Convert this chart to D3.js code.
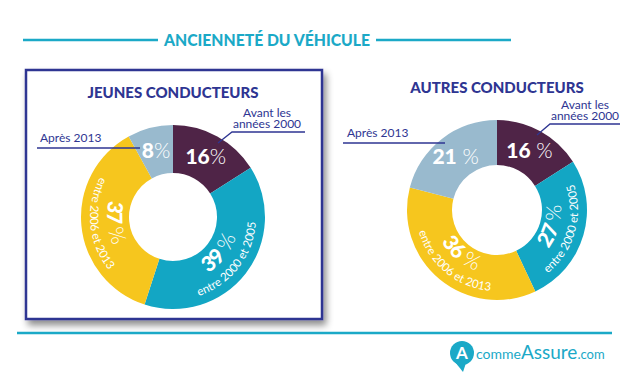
<!DOCTYPE html>
<html>
<head>
<meta charset="utf-8">
<script src="https://cdn.jsdelivr.net/npm/d3@7"></script>
<style>
    body { margin: 0; background: #ffffff; }
    svg { display: block; font-family: "Lato", "Noto Sans", sans-serif; }
</style>
</head>
<body>
<div id="chart"></div>
<script>
// Данные диаграмм
var categories = ["Avant les années 2000", "entre 2000 et 2005", "entre 2006 et 2013", "Après 2013"];
var jeunesValues = [16, 39, 37, 8];
var autresValues = [16, 27, 36, 21];
var jeunesSep = ["", " ", " ", ""];
var autresSep = [" ", " ", " ", " "];
var chartTitles = ["JEUNES CONDUCTEURS", "AUTRES CONDUCTEURS"];
var mainTitle = "ANCIENNETÉ DU VÉHICULE";
var colors = ["#4f2447", "#13a6c4", "#f6c61e", "#99bace"];

var app = app || {};

app.Donut = (function () {
    var navy = "#2e3592";

    function Donut(svg, options) {
        this.svg = svg;
        this.id = options.id;
        this.cx = options.cx;
        this.cy = options.cy;
        this.outer = options.outer;
        this.inner = options.inner;
        this.values = options.values;
        this.seps = options.seps;
        this.title = options.title;
        this.titleY = options.titleY;
        this.callouts = options.callouts;
        this.draw();
    }

    var p = Donut.prototype;

    // дуга против часовой стрелки вокруг угла a, чтобы текст шел снизу вверх
    function textArc(a, r) {
        var a1 = a + Math.PI / 2,
            a2 = a - Math.PI / 2;
        return "M" + (r * Math.sin(a1)) + "," + (-r * Math.cos(a1)) +
            " A" + r + "," + r + " 0 0 0 " + (r * Math.sin(a2)) + "," + (-r * Math.cos(a2));
    }

    p.draw = function () {
        var self = this,
            pie = d3.pie().sort(null).value(function (d) { return d; }),
            arc = d3.arc().innerRadius(this.inner).outerRadius(this.outer),
            mid = (this.inner + this.outer) / 2,
            g = this.svg.append("g").attr("transform", "translate(" + this.cx + "," + this.cy + ")"),
            defs = this.svg.select("defs"),
            arcs = pie(this.values);

        this.svg.append("text")
            .attr("x", this.cx)
            .attr("y", this.titleY)
            .attr("text-anchor", "middle")
            .attr("fill", navy)
            .attr("font-weight", 900)
            .attr("font-size", 15)
            .text(this.title);

        g.selectAll("path.slice")
            .data(arcs)
            .enter()
            .append("path")
            .attr("class", "slice")
            .attr("d", arc)
            .attr("fill", function (d, i) { return colors[i]; });

        arcs.forEach(function (d, i) {
            var a = (d.startAngle + d.endAngle) / 2,
                x = Math.sin(a) * mid,
                y = -Math.cos(a) * mid,
                numId = self.id + "-num-" + i,
                catId = self.id + "-cat-" + i,
                t,
                tp;

            if (i === 0 || i === 3) {
                // горизонтальная подпись только с числом
                t = g.append("text")
                    .attr("x", x)
                    .attr("y", y + 7)
                    .attr("text-anchor", "middle")
                    .attr("fill", "#ffffff")
                    .attr("font-size", 21);
                t.append("tspan").attr("font-weight", 900).text(self.values[i]);
                t.append("tspan").attr("font-weight", 300).text(self.seps[i] + "%");
                return;
            }

            // подписи по дуге
            defs.append("path").attr("id", numId).attr("d", textArc(a, self.outer - 26));
            defs.append("path").attr("id", catId).attr("d", textArc(a, self.outer - 9));

            t = g.append("text")
                .attr("fill", "#ffffff")
                .attr("font-size", 21);
            tp = t.append("textPath")
                .attr("href", "#" + numId)
                .attr("startOffset", "50%")
                .attr("text-anchor", "middle");
            tp.append("tspan").attr("font-weight", 900).text(self.values[i]);
            tp.append("tspan").attr("font-weight", 300).text(self.seps[i] + "%");

            g.append("text")
                .attr("fill", "#ffffff")
                .attr("font-size", 11.5)
                .attr("font-weight", 400)
                .append("textPath")
                .attr("href", "#" + catId)
                .attr("startOffset", "50%")
                .attr("text-anchor", "middle")
                .text(categories[i]);
        });

        this.drawCallouts(g);
    };

    p.drawCallouts = function (g) {
        var c = this.callouts,
            words = categories[0].split(" "),
            avant = g.append("text")
                .attr("text-anchor", "middle")
                .attr("fill", navy)
                .attr("font-size", 12)
                .attr("font-weight", 400);

        avant.append("tspan").attr("x", c.avantX).attr("y", c.avantY).text(words.slice(0, 2).join(" "));
        avant.append("tspan").attr("x", c.avantX).attr("y", c.avantY + 11).text(words.slice(2).join(" "));

        g.append("path")
            .attr("d", d3.line()([[c.avantLine[1], c.avantLine[2]], [c.avantLine[0], c.avantLine[2]], c.avantEnd]))
            .attr("fill", "none")
            .attr("stroke", navy)
            .attr("stroke-width", 1.3);

        g.append("text")
            .attr("x", c.apresX)
            .attr("y", c.apresY)
            .attr("fill", navy)
            .attr("font-size", 12)
            .attr("font-weight", 400)
            .text(categories[3]);

        g.append("line")
            .attr("x1", c.apresLine[0])
            .attr("x2", c.apresLine[1])
            .attr("y1", c.apresLine[2])
            .attr("y2", c.apresLine[2])
            .attr("stroke", navy)
            .attr("stroke-width", 1.3);
    };

    return Donut;
}());

(function () {
    var width = 640,
        height = 384,
        teal = "#1ba9c7",
        svg = d3.select("#chart").append("svg").attr("width", width).attr("height", height),
        defs = svg.append("defs"),
        shadow = defs.append("filter").attr("id", "shadow").attr("x", "-10%").attr("y", "-10%")
            .attr("width", "125%").attr("height", "125%"),
        logo,
        lt;

    shadow.append("feDropShadow")
        .attr("dx", 3).attr("dy", 5).attr("stdDeviation", 3.5)
        .attr("flood-color", "#000000").attr("flood-opacity", 0.45);

    // заголовок с линиями
    svg.append("line").attr("x1", 23).attr("x2", 158).attr("y1", 40).attr("y2", 40)
        .attr("stroke", teal).attr("stroke-width", 2.5);
    svg.append("line").attr("x1", 376).attr("x2", 511).attr("y1", 40).attr("y2", 40)
        .attr("stroke", teal).attr("stroke-width", 2.5);
    svg.append("text")
        .attr("x", 267).attr("y", 46)
        .attr("text-anchor", "middle")
        .attr("fill", teal)
        .attr("font-weight", 900)
        .attr("font-size", 17)
        .attr("textLength", 206)
        .attr("lengthAdjust", "spacingAndGlyphs")
        .text(mainTitle);

    // рамка вокруг левой диаграммы
    svg.append("rect")
        .attr("x", 26).attr("y", 70).attr("width", 296).attr("height", 249)
        .attr("fill", "#ffffff")
        .attr("stroke", "#2e3592")
        .attr("stroke-width", 2.5)
        .attr("filter", "url(#shadow)");

    new app.Donut(svg, {
        id: "jeunes",
        cx: 173, cy: 217, outer: 92, inner: 44,
        values: jeunesValues, seps: jeunesSep,
        title: chartTitles[0], titleY: 98,
        callouts: {
            avantX: 94, avantY: -100, avantLine: [59, 132, -85], avantEnd: [45, -74],
            apresX: -133, apresY: -75, apresLine: [-136, -33, -69]
        }
    });

    new app.Donut(svg, {
        id: "autres",
        cx: 497, cy: 210, outer: 90, inner: 45,
        values: autresValues, seps: autresSep,
        title: chartTitles[1], titleY: 93,
        callouts: {
            avantX: 88, avantY: -101, avantLine: [53, 123, -86], avantEnd: [40, -75],
            apresX: -150, apresY: -73, apresLine: [-154, -52, -67]
        }
    });

    // нижняя линия и логотип
    svg.append("line").attr("x1", 17).attr("x2", 612).attr("y1", 333).attr("y2", 333)
        .attr("stroke", teal).attr("stroke-width", 2.5);

    logo = svg.append("g");
    logo.append("path")
        .attr("d", "M455,362 L463,372 L466,363 Z")
        .attr("fill", teal);
    logo.append("circle").attr("cx", 462).attr("cy", 353).attr("r", 12).attr("fill", teal);
    logo.append("text")
        .attr("x", 462).attr("y", 359)
        .attr("text-anchor", "middle")
        .attr("fill", "#ffffff")
        .attr("font-size", 17)
        .attr("font-weight", 700)
        .text("A");
    lt = logo.append("text")
        .attr("x", 476).attr("y", 359)
        .attr("fill", teal);
    lt.append("tspan").attr("font-size", 14).attr("font-weight", 400).text("comme");
    lt.append("tspan").attr("font-size", 19).attr("font-weight", 400).text("Assure");
    lt.append("tspan").attr("font-size", 13).attr("font-weight", 400).text(".com");
}());
</script>
</body>
</html>
